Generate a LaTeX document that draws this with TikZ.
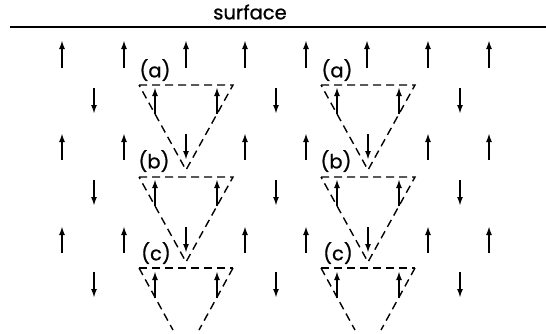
\documentclass[tikz,border=0pt]{standalone}
\usepackage{fontspec}
\setmainfont{Poppins}[FakeBold=0.8]
\usetikzlibrary{arrows.meta}
\begin{document}
\begin{tikzpicture}[x=1pt,y=-1pt,
  spin/.style={line width=2.1pt,-{Latex[length=9pt,width=6pt]}},
  tri/.style={line width=1.4pt,dash pattern=on 8pt off 5pt},
  lbl/.style={font=\fontsize{19.5}{22}\selectfont, inner sep=0pt}]
\useasboundingbox (0,0) rectangle (546,333);
% surface
\draw[line width=1.4pt] (10,27) -- (546,27);
\node[lbl] (surf) at (250,12) {surface};
% row A: up arrows
\foreach \x in {62,124,186,245,306,367,428,489} \draw[spin] (\x,68) -- (\x,40);
% rows C and E: up arrows outside triangles, down arrows inside
\foreach \y in {160,253} {
  \foreach \x in {62,124,245,306,428,489} \draw[spin] (\x,\y) -- (\x,\y-27);
  \foreach \x in {186,368} \draw[spin] (\x,\y-26) -- (\x,\y);
}
% rows B, D, F: down arrows outside, up arrows inside triangles
\foreach \y in {88,180,272} {
  \foreach \x in {94,276,460} \draw[spin] (\x,\y) -- (\x,\y+26);
  \foreach \x in {155,217,337,399} \draw[spin] (\x,\y+26) -- (\x,\y-1);
}
% triangles
\foreach \c/\n in {186/L,368/R} {
  \draw[tri] (\c-47,85) -- (\c+47,85) -- (\c,170) -- cycle;
  \draw[tri] (\c-47,177) -- (\c+47,177) -- (\c,262) -- cycle;
  \draw[tri] (\c-47,268) -- (\c+47,268);
  \draw[tri] (\c-47,268) -- (\c-13,330);
  \draw[tri] (\c+47,268) -- (\c+13,330);
  \node[lbl] (a\n) at (\c-31,70) {(a)};
  \node[lbl] (b\n) at (\c-32,161) {(b)};
  \node[lbl] (c\n) at (\c-30,253) {(c)};
}
\end{tikzpicture}
\end{document}
